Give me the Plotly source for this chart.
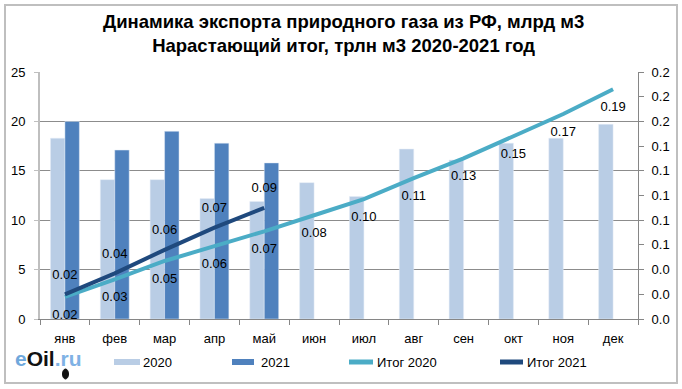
import plotly.graph_objects as go

months = ["янв", "фев", "мар", "апр", "май", "июн", "июл", "авг", "сен", "окт", "ноя", "дек"]
exp2020 = [18.3, 14.1, 14.1, 12.2, 11.9, 13.8, 12.4, 17.2, 16.1, 17.8, 18.3, 19.7]
exp2021 = [20.0, 17.1, 19.0, 17.8, 15.8]
itog2020 = [0.018, 0.032, 0.047, 0.059, 0.071, 0.084, 0.097, 0.114, 0.130, 0.148, 0.166, 0.186]
itog2021 = [0.020, 0.037, 0.056, 0.074, 0.090]

FONT = "Liberation Sans, Arial, sans-serif"
FS = 13
C2020 = "#B9CDE5"
C2021 = "#4F81BD"
CIT20 = "#4BACC6"
CIT21 = "#1F497D"

# plot area in pixels
L, R, T, B = 40, 638, 72, 319
W, H = 682, 389


def px(x):
    return (x - L) / (R - L)


def py(y):
    return (B - y) / (B - T)


fig = go.Figure()
fig.add_trace(go.Bar(x=months, y=exp2020, name="2020", marker_color=C2020, yaxis="y"))
fig.add_trace(go.Bar(x=months[:len(exp2021)], y=exp2021, name="2021", marker_color=C2021, yaxis="y"))
fig.add_trace(go.Scatter(
    x=months, y=itog2020, name="Итог 2020", yaxis="y2",
    mode="lines+markers+text", line=dict(color=CIT20, width=4),
    marker=dict(size=18, color="rgba(0,0,0,0)"),
    texttemplate="%{y:.2f}", textposition="bottom center",
    textfont=dict(family=FONT, size=FS, color="#000000"),
))
fig.add_trace(go.Scatter(
    x=months[:len(itog2021)], y=itog2021, name="Итог 2021", yaxis="y2",
    mode="lines+markers+text", line=dict(color=CIT21, width=4),
    marker=dict(size=18, color="rgba(0,0,0,0)"),
    texttemplate="%{y:.2f}", textposition="top center",
    textfont=dict(family=FONT, size=FS, color="#000000"),
))

shapes = [
    dict(type="rect", xref="paper", yref="paper",
         x0=px(5), x1=px(677), y0=py(383), y1=py(5),
         line=dict(color="#BFBFBF", width=2), fillcolor="rgba(0,0,0,0)", layer="below"),
    # legend swatches
    dict(type="rect", xref="paper", yref="paper", x0=px(114), x1=px(140), y0=py(365), y1=py(359),
         line=dict(width=0), fillcolor=C2020),
    dict(type="rect", xref="paper", yref="paper", x0=px(232), x1=px(254), y0=py(365), y1=py(359),
         line=dict(width=0), fillcolor=C2021),
    dict(type="line", xref="paper", yref="paper", x0=px(349), x1=px(373), y0=py(362), y1=py(362),
         line=dict(color=CIT20, width=5)),
    dict(type="line", xref="paper", yref="paper", x0=px(500), x1=px(523), y0=py(362), y1=py(362),
         line=dict(color=CIT21, width=5)),
    # logo drop
    dict(type="circle", xref="paper", yref="paper", x0=px(62.5), x1=px(68.5), y0=py(379), y1=py(369),
         line=dict(color="#111111", width=1), fillcolor="#111111"),
]

annotations = [
    dict(text="<b>Динамика экспорта природного газа из РФ, млрд м3<br>Нарастающий итог, трлн м3 2020-2021 год</b>",
         xref="paper", yref="paper", x=px(343), y=py(33.5), xanchor="center", yanchor="middle",
         showarrow=False, font=dict(family=FONT, size=18.5, color="#000000")),
    dict(text="2020", xref="paper", yref="paper", x=px(141), y=py(362), xanchor="left", yanchor="middle",
         showarrow=False, font=dict(family=FONT, size=FS, color="#000000")),
    dict(text="2021", xref="paper", yref="paper", x=px(259), y=py(362), xanchor="left", yanchor="middle",
         showarrow=False, font=dict(family=FONT, size=FS, color="#000000")),
    dict(text="Итог 2020", xref="paper", yref="paper", x=px(375), y=py(362), xanchor="left", yanchor="middle",
         showarrow=False, font=dict(family=FONT, size=FS, color="#000000")),
    dict(text="Итог 2021", xref="paper", yref="paper", x=px(525), y=py(362), xanchor="left", yanchor="middle",
         showarrow=False, font=dict(family=FONT, size=FS, color="#000000")),
    dict(text="<b><span style='color:#6FA8DC'>e</span><span style='color:#111111'>Oil</span><span style='color:#7FB2E5'>.ru</span></b>",
         xref="paper", yref="paper", x=px(13), y=py(358), xanchor="left", yanchor="middle",
         showarrow=False, font=dict(family=FONT, size=21)),
]

fig.update_layout(
    width=W, height=H,
    margin=dict(l=L, r=W - R, t=T, b=H - B, autoexpand=False),
    paper_bgcolor="white", plot_bgcolor="white",
    font=dict(family=FONT, size=FS, color="#000000"),
    barmode="group", bargap=0.42, bargroupgap=0,
    showlegend=False,
    shapes=shapes, annotations=annotations,
    xaxis=dict(
        type="category", range=[-0.5, len(months) - 0.5], autorange=False,
        tickson="boundaries", ticks="outside", ticklen=5,
        tickcolor="#868686", showline=True, linecolor="#868686", linewidth=1,
        showgrid=False, tickfont=dict(family=FONT, size=FS, color="#000000"),
        ticklabelstandoff=7,
    ),
    yaxis=dict(
        range=[0, 25], dtick=5, tick0=0, showgrid=True, gridcolor="#8C8C8C", gridwidth=1,
        showline=True, linecolor="#BFBFBF", linewidth=2, ticks="outside", ticklen=4,
        tickcolor="#BFBFBF", zeroline=False, tickfont=dict(family=FONT, size=FS, color="#000000"),
        ticklabelstandoff=6,
    ),
    yaxis2=dict(
        range=[0, 0.2], dtick=0.02, tick0=0, tickformat=".1f", overlaying="y", side="right",
        showgrid=False, showline=True, linecolor="#868686", linewidth=1, ticks="outside",
        ticklen=5, tickcolor="#868686", zeroline=False,
        tickfont=dict(family=FONT, size=FS, color="#000000"), ticklabelstandoff=5,
    ),
)

fig.write_html("out.html", config={"displayModeBar": False},
               post_script="document.body.style.margin='0';document.body.style.overflow='hidden';")
